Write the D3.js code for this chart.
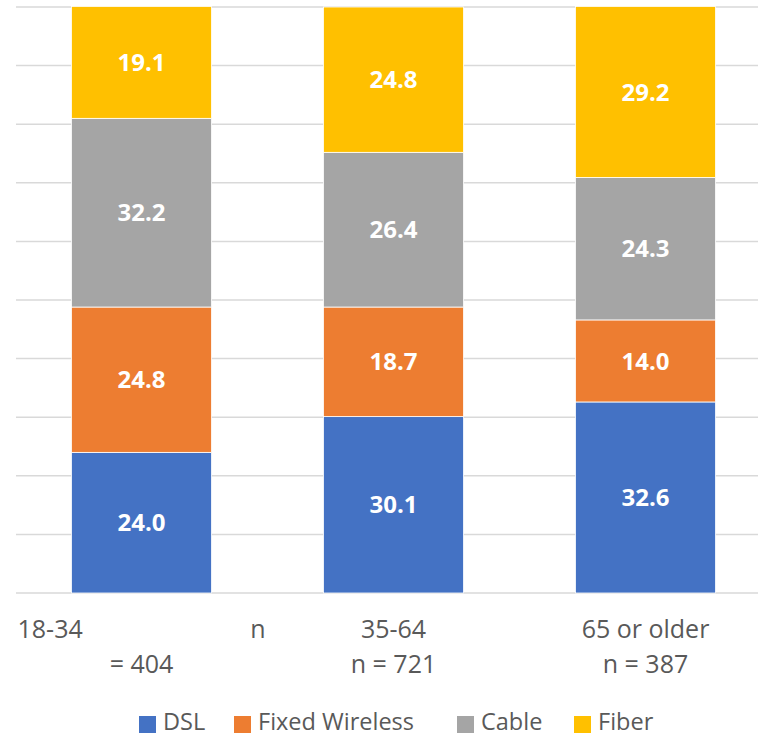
<!DOCTYPE html>
<html><head><meta charset="utf-8">
<script src="https://cdn.jsdelivr.net/npm/d3@7"></script>
<style>html,body{margin:0;padding:0;background:#fff;}svg{display:block;}</style>
</head><body>
<svg id="c" width="758" height="737"></svg>
<script>
const categories = ["18-34", "35-64", "65 or older"];
const catLine1 = [["18-34", "n"], ["35-64"], ["65 or older"]];
const catLine2 = ["= 404", "n = 721", "n = 387"];
const seriesNames = ["DSL", "Fixed Wireless", "Cable", "Fiber"];
const dsl = [24.0, 30.1, 32.6];
const fixedWireless = [24.8, 18.7, 14.0];
const cable = [32.2, 26.4, 24.3];
const fiber = [19.1, 24.8, 29.2];
const yTicks = [0, 10, 20, 30, 40, 50, 60, 70, 80, 90, 100];

const colors = ["#4472C4", "#ED7D31", "#A5A5A5", "#FFC000"];
const seriesVals = [dsl, fixedWireless, cable, fiber];
const rows = categories.map((c, i) => {
  const r = {cat: c};
  seriesNames.forEach((s, j) => r[s] = seriesVals[j][i]);
  return r;
});
const stacked = d3.stack().keys(seriesNames)(rows);

const svg = d3.select("#c");
const font = "'Open Sans', sans-serif";
const x = d3.scaleBand().domain(categories).range([15.5, 771.5]).paddingInner(0.444).paddingOuter(0.222);
const y = d3.scaleLinear().domain([0, 100]).range([593, 7]);

svg.append("g").selectAll("line").data(yTicks).join("line")
  .attr("x1", 16).attr("x2", 758)
  .attr("y1", d => y(d)).attr("y2", d => y(d))
  .attr("stroke", "#D9D9D9").attr("stroke-width", 1.5);

const g = svg.append("g");
stacked.forEach((layer, j) => {
  g.append("g").selectAll("rect").data(layer).join("rect")
    .attr("x", d => x(d.data.cat))
    .attr("width", x.bandwidth())
    .attr("y", d => y(d[1]))
    .attr("height", d => y(d[0]) - y(d[1]))
    .attr("fill", colors[j])
    .attr("stroke", "#fff").attr("stroke-width", 0.8);
  g.append("g").selectAll("text").data(layer).join("text")
    .attr("x", d => x(d.data.cat) + x.bandwidth() / 2)
    .attr("y", d => (y(d[0]) + y(d[1])) / 2)
    .attr("dy", "0.36em")
    .attr("text-anchor", "middle")
    .attr("font-family", font).attr("font-weight", "bold").attr("font-size", 24)
    .attr("fill", "#fff")
    .text(d => (d[1] - d[0]).toFixed(1));
});

// category labels
categories.forEach((c, i) => {
  const cx = x(c) + x.bandwidth() / 2;
  const parts = catLine1[i];
  if (parts.length === 1) {
    svg.append("text").attr("x", cx).attr("y", 638).attr("text-anchor", "middle")
      .attr("font-family", font).attr("font-size", 25).attr("fill", "#595959").text(parts[0]);
  } else {
    svg.append("text").attr("x", cx - 124).attr("y", 638).attr("text-anchor", "start")
      .attr("font-family", font).attr("font-size", 25).attr("fill", "#595959").text(parts[0]);
    svg.append("text").attr("x", cx + 124).attr("y", 638).attr("text-anchor", "end")
      .attr("font-family", font).attr("font-size", 25).attr("fill", "#595959").text(parts[1]);
  }
  svg.append("text").attr("x", cx).attr("y", 673).attr("text-anchor", "middle")
    .attr("font-family", font).attr("font-size", 25).attr("fill", "#595959").text(catLine2[i]);
});

// legend
const legendX = [139, 234, 457, 574];
const lg = svg.append("g");
seriesNames.forEach((s, j) => {
  lg.append("rect").attr("x", legendX[j]).attr("y", 716).attr("width", 17).attr("height", 17).attr("fill", colors[j]);
  lg.append("text").attr("x", legendX[j] + 24).attr("y", 730)
    .attr("font-family", font).attr("font-size", 23.5).attr("fill", "#595959").text(s);
});
</script>
</body></html>
